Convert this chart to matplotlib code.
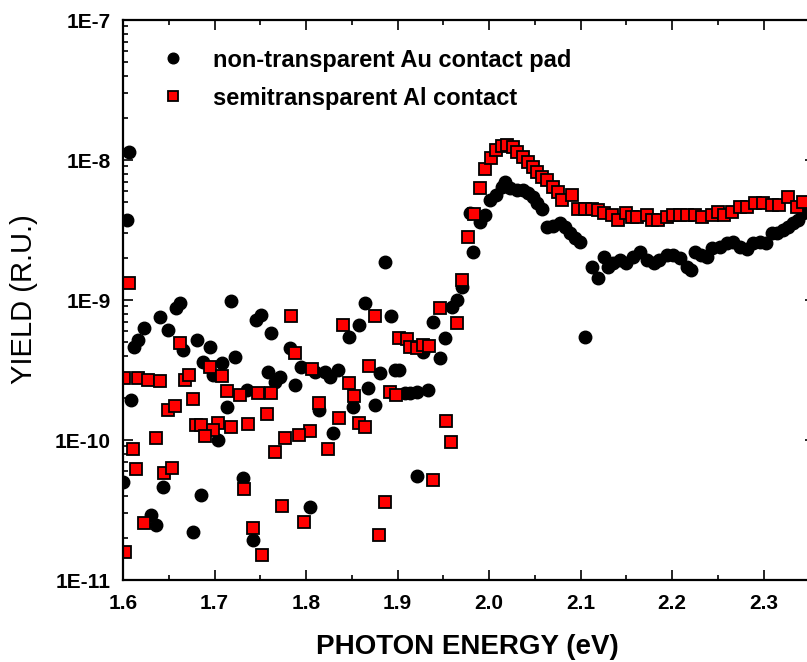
import matplotlib
matplotlib.use("Agg")
import matplotlib.pyplot as plt
from matplotlib.ticker import MultipleLocator, LogLocator, FixedLocator, NullFormatter
import numpy as np

plt.rcParams["font.family"] = ["Liberation Sans", "DejaVu Sans"]

# non-transparent Au contact pad (black circles)
au_energy = [
    1.607, 1.604, 1.600, 1.609, 1.612, 1.616, 1.623, 1.640, 1.649, 1.658,
    1.662, 1.666, 1.681, 1.695, 1.687, 1.708, 1.722, 1.698, 1.718, 1.745,
    1.751, 1.762, 1.758, 1.766, 1.782, 1.771, 1.788, 1.795, 1.810, 1.821,
    1.826, 1.835, 1.735, 1.714, 1.704, 1.731, 1.742, 1.685, 1.676, 1.644,
    1.631, 1.636, 1.804, 1.829, 1.814, 1.851, 1.875, 1.868, 1.881, 1.897,
    1.908, 1.913, 1.921, 1.933, 1.921, 1.864, 1.893, 1.858, 1.847, 1.886,
    1.939, 1.952, 1.946, 1.928, 1.959, 1.965, 1.970, 1.902, 1.982, 1.979,
    1.990, 1.995, 2.001, 2.008, 2.014, 2.017, 2.023, 2.030, 2.037, 2.042,
    2.048, 2.052, 2.058, 2.063, 2.070, 2.077, 2.083, 2.088, 2.094, 2.099,
    2.105, 2.112, 2.119, 2.126, 2.130, 2.135, 2.143, 2.150, 2.157, 2.165,
    2.172, 2.180, 2.186, 2.194, 2.201, 2.208, 2.216, 2.221, 2.225, 2.232,
    2.238, 2.244, 2.252, 2.260, 2.266, 2.274, 2.282, 2.288, 2.296, 2.303,
    2.309, 2.314, 2.321, 2.326, 2.332, 2.337, 2.343,
]
au_yield = [
    1.14e-8, 3.7e-9, 5.0e-11, 1.93e-10, 4.6e-10, 5.2e-10, 6.3e-10, 7.6e-10, 6.1e-10, 8.8e-10,
    9.5e-10, 4.4e-10, 5.2e-10, 4.6e-10, 3.6e-10, 3.55e-10, 3.9e-10, 2.9e-10, 9.8e-10, 7.2e-10,
    7.8e-10, 5.8e-10, 3.06e-10, 2.6e-10, 4.55e-10, 2.8e-10, 2.47e-10, 3.3e-10, 3.06e-10, 3.06e-10,
    2.8e-10, 3.16e-10, 2.28e-10, 1.72e-10, 1.0e-10, 5.35e-11, 1.93e-11, 4.05e-11, 2.2e-11, 4.6e-11,
    2.9e-11, 2.47e-11, 3.3e-11, 1.12e-10, 1.64e-10, 1.72e-10, 1.78e-10, 2.35e-10, 3.0e-10, 3.16e-10,
    2.17e-10, 2.17e-10, 2.2e-10, 2.28e-10, 5.5e-11, 9.5e-10, 7.7e-10, 6.6e-10, 5.4e-10, 1.87e-9,
    7.0e-10, 5.35e-10, 3.85e-10, 4.25e-10, 8.9e-10, 1.0e-9, 1.24e-9, 3.16e-10, 2.2e-9, 4.2e-9,
    3.6e-9, 4.05e-9, 5.2e-9, 5.6e-9, 6.4e-9, 7.0e-9, 6.3e-9, 6.1e-9, 6.1e-9, 5.8e-9,
    5.4e-9, 4.9e-9, 4.5e-9, 3.3e-9, 3.4e-9, 3.55e-9, 3.3e-9, 3.0e-9, 2.77e-9, 2.6e-9,
    5.4e-10, 1.72e-9, 1.44e-9, 2.03e-9, 1.72e-9, 1.84e-9, 1.93e-9, 1.84e-9, 2.03e-9, 2.2e-9,
    1.93e-9, 1.84e-9, 1.93e-9, 2.1e-9, 2.1e-9, 2.0e-9, 1.72e-9, 1.64e-9, 2.2e-9, 2.1e-9,
    2.03e-9, 2.35e-9, 2.4e-9, 2.55e-9, 2.6e-9, 2.4e-9, 2.3e-9, 2.55e-9, 2.6e-9, 2.55e-9,
    3.0e-9, 3.0e-9, 3.16e-9, 3.3e-9, 3.55e-9, 3.7e-9, 4.2e-9,
]

# semitransparent Al contact (red squares)
al_energy = [
    1.607, 1.601, 1.616, 1.627, 1.640, 1.662, 1.668, 1.672, 1.695, 1.708,
    1.714, 1.728, 1.747, 1.762, 1.676, 1.649, 1.657, 1.757, 1.636, 1.680,
    1.685, 1.704, 1.698, 1.690, 1.718, 1.737, 1.611, 1.766, 1.614, 1.645,
    1.654, 1.732, 1.623, 1.742, 1.602, 1.752, 1.774, 1.798, 1.886, 1.880,
    1.939, 1.953, 1.958, 1.970, 1.946, 1.965, 1.783, 1.840, 1.875, 1.902,
    1.910, 1.913, 1.921, 1.928, 1.934, 1.788, 1.869, 1.807, 1.847, 1.852,
    1.892, 1.898, 1.814, 1.836, 1.858, 1.864, 1.804, 1.792, 1.777, 1.824,
    1.977, 1.983, 1.990, 1.995, 2.002, 2.008, 2.014, 2.020, 2.026, 2.030,
    2.037, 2.042, 2.048, 2.052, 2.058, 2.063, 2.070, 2.075, 2.080, 2.090,
    2.097, 2.105, 2.112, 2.119, 2.126, 2.134, 2.141, 2.150, 2.156, 2.162,
    2.172, 2.178, 2.184, 2.194, 2.201, 2.208, 2.216, 2.225, 2.233, 2.243,
    2.250, 2.257, 2.265, 2.274, 2.282, 2.290, 2.299, 2.309, 2.317, 2.326,
    2.336, 2.343,
]
al_yield = [
    1.32e-9, 2.77e-10, 2.77e-10, 2.7e-10, 2.64e-10, 4.9e-10, 2.68e-10, 2.9e-10, 3.3e-10, 2.85e-10,
    2.24e-10, 2.1e-10, 2.15e-10, 2.17e-10, 1.96e-10, 1.64e-10, 1.75e-10, 1.54e-10, 1.04e-10, 1.28e-10,
    1.28e-10, 1.32e-10, 1.18e-10, 1.06e-10, 1.24e-10, 1.30e-10, 8.6e-11, 8.2e-11, 6.2e-11, 5.8e-11,
    6.3e-11, 4.5e-11, 2.55e-11, 2.35e-11, 1.58e-11, 1.51e-11, 3.4e-11, 2.6e-11, 3.6e-11, 2.1e-11,
    5.2e-11, 1.37e-10, 9.7e-11, 1.39e-9, 8.8e-10, 6.85e-10, 7.7e-10, 6.6e-10, 7.7e-10, 5.35e-10,
    5.3e-10, 4.6e-10, 4.55e-10, 4.8e-10, 4.7e-10, 4.2e-10, 3.4e-10, 3.2e-10, 2.55e-10, 2.06e-10,
    2.2e-10, 2.1e-10, 1.84e-10, 1.44e-10, 1.32e-10, 1.24e-10, 1.16e-10, 1.09e-10, 1.04e-10, 8.6e-11,
    2.8e-9, 4.1e-9, 6.3e-9, 8.6e-9, 1.03e-8, 1.18e-8, 1.26e-8, 1.28e-8, 1.24e-8, 1.14e-8,
    1.05e-8, 9.7e-9, 8.9e-9, 8.2e-9, 7.6e-9, 7.2e-9, 6.4e-9, 5.9e-9, 5.2e-9, 5.6e-9,
    4.5e-9, 4.5e-9, 4.5e-9, 4.4e-9, 4.2e-9, 4.05e-9, 3.7e-9, 4.2e-9, 3.9e-9, 3.9e-9,
    4.05e-9, 3.7e-9, 3.7e-9, 3.9e-9, 4.05e-9, 4.05e-9, 4.05e-9, 4.05e-9, 3.9e-9, 4.05e-9,
    4.25e-9, 4.05e-9, 4.25e-9, 4.6e-9, 4.6e-9, 4.9e-9, 4.9e-9, 4.77e-9, 4.77e-9, 5.4e-9,
    4.6e-9, 5.0e-9,
]

x_major = [1.6, 1.7, 1.8, 1.9, 2.0, 2.1, 2.2, 2.3]
y_major = [1e-11, 1e-10, 1e-9, 1e-8, 1e-7]
y_labels = ["1E-11", "1E-10", "1E-9", "1E-8", "1E-7"]

fig = plt.figure(figsize=(8.07, 6.62), dpi=100)
ax = fig.add_axes([123 / 807, 82 / 662, 692 / 807, 560 / 662])

ax.plot(au_energy, au_yield, "o", color="black", markersize=9,
        linestyle="none", label="non-transparent Au contact pad")
ax.plot(al_energy, al_yield, "s", markerfacecolor="#ff0000",
        markeredgecolor="black", markeredgewidth=1.3, markersize=8,
        linestyle="none", label="semitransparent Al contact")

ax.set_yscale("log")
ax.set_xlim(1.6, 2.356)
ax.set_ylim(1e-11, 1e-7)

ax.xaxis.set_major_locator(FixedLocator(x_major))
ax.xaxis.set_minor_locator(MultipleLocator(0.05))
ax.set_xticklabels([f"{v:.1f}" for v in x_major])
ax.yaxis.set_major_locator(FixedLocator(y_major))
ax.yaxis.set_minor_locator(LogLocator(base=10, subs=np.arange(2, 10)))
ax.yaxis.set_minor_formatter(NullFormatter())
ax.set_yticklabels(y_labels)

ax.tick_params(which="both", direction="in", top=True, right=True,
               width=1.2, labelsize=15)
ax.tick_params(which="major", length=7)
ax.tick_params(which="minor", length=3.6)
ax.tick_params(axis="x", pad=10)
ax.tick_params(axis="y", pad=9)
for lab in ax.get_xticklabels() + ax.get_yticklabels():
    lab.set_fontweight("bold")
for sp in ax.spines.values():
    sp.set_linewidth(1.6)

ax.set_xlabel("PHOTON ENERGY (eV)", fontsize=20, fontweight="bold")
ax.set_ylabel("YIELD (R.U.)", fontsize=21)
ax.xaxis.set_label_coords((467 - 123) / 692, -(634 - 580) / 560)
ax.yaxis.set_label_coords(-(123 - 38) / 692, (580 - 299) / 560)

leg = ax.legend(loc="upper left", bbox_to_anchor=(0.025, 0.987), frameon=False,
                handlelength=1.0, handletextpad=1.2, labelspacing=0.64,
                markerscale=0.85, prop={"size": 17, "weight": "bold"})

fig.savefig("out.png", dpi=100)
